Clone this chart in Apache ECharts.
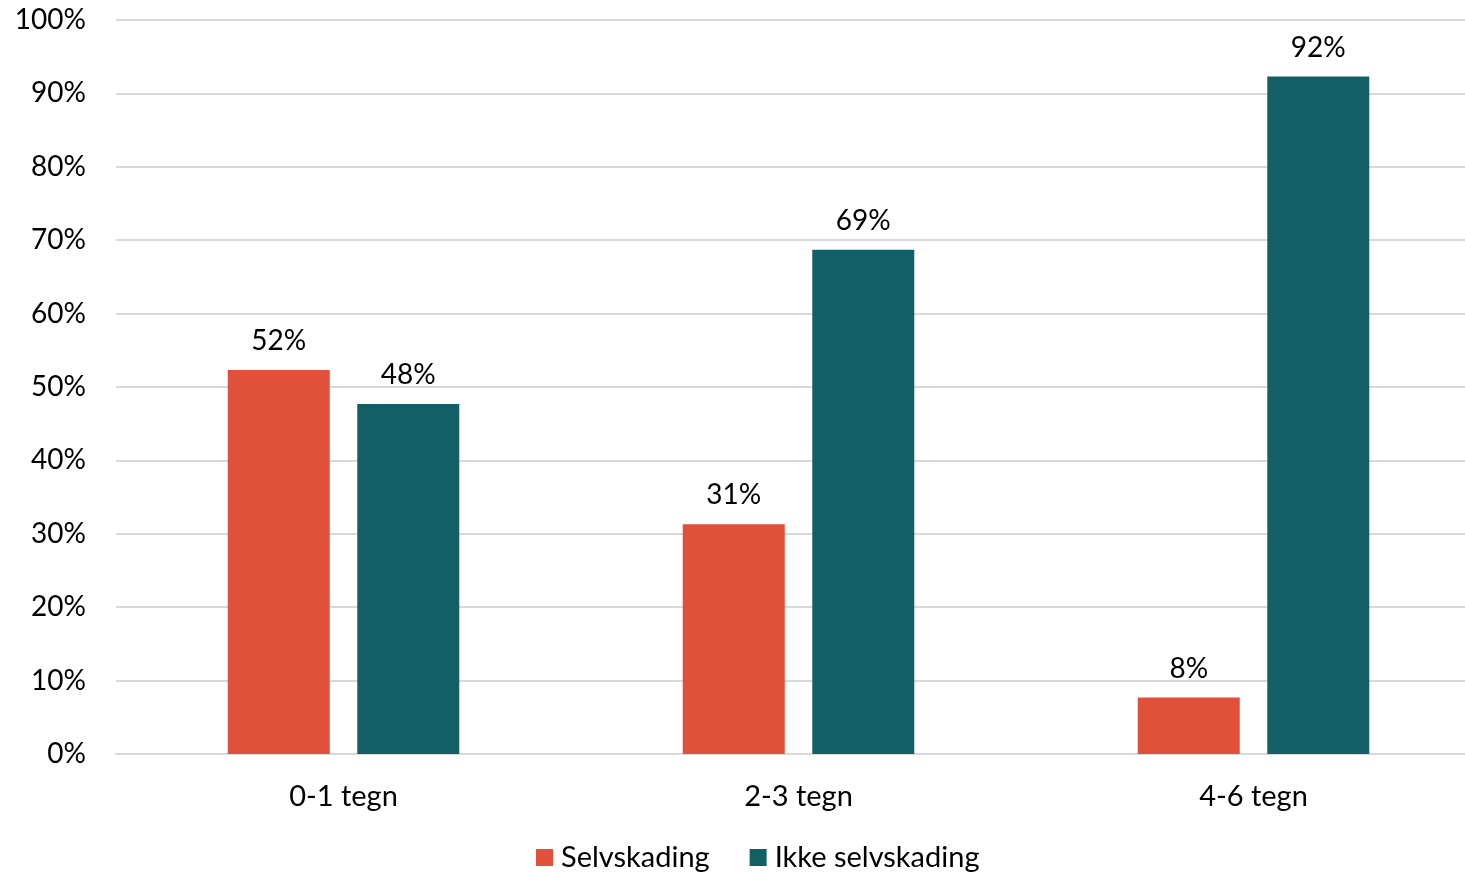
<!DOCTYPE html>
<html><head><meta charset="utf-8">
<script src="https://cdn.jsdelivr.net/npm/echarts@6/dist/echarts.min.js"></script>
<style>html,body{margin:0;padding:0;background:#fff}#c{width:1465px;height:874px}</style>
</head><body><div id="c"></div>
<script>
const categories = ['0-1 tegn', '2-3 tegn', '4-6 tegn'];
const seriesNames = ['Selvskading', 'Ikke selvskading'];
const selvskading = [52.3, 31.3, 7.7];
const ikkeSelvskading = [47.7, 68.7, 92.3];
const yTicks = [0, 10, 20, 30, 40, 50, 60, 70, 80, 90, 100];

const FONT = 'Lato';
const chart = echarts.init(document.getElementById('c'));
const labelOpt = {
  show: true, position: 'top', distance: 15,
  color: '#000', fontFamily: FONT, fontSize: 28,
  formatter: p => Math.round(p.value) + '%'
};
chart.setOption({
  animation: false,
  grid: { left: 116, width: 1365, top: 20, bottom: 120, containLabel: false, outerBoundsMode: 'none' },
  legend: {
    top: 838, left: 531, itemWidth: 17, itemHeight: 17, itemGap: 40,
    icon: 'rect',
    textStyle: { color: '#000', fontFamily: FONT, fontSize: 29, padding: [0, 0, 0, 3] },
    data: seriesNames
  },
  xAxis: {
    type: 'category', data: categories,
    axisLine: { show: true, lineStyle: { color: '#d9d9d9', width: 2 } },
    axisTick: { show: false },
    axisLabel: { color: '#000', fontFamily: FONT, fontSize: 29, margin: 28 }
  },
  yAxis: {
    type: 'value', min: yTicks[0], max: yTicks[yTicks.length - 1], interval: 10,
    axisLine: { show: false }, axisTick: { show: false },
    splitLine: { lineStyle: { color: '#d9d9d9', width: 2 } },
    axisLabel: { color: '#000', fontFamily: FONT, fontSize: 28, margin: 30, formatter: v => v + '%' }
  },
  series: [
    { name: seriesNames[0], type: 'bar', data: selvskading, barWidth: 102, barGap: '27%',
      itemStyle: { color: '#E0503A' }, label: labelOpt },
    { name: seriesNames[1], type: 'bar', data: ikkeSelvskading, barWidth: 102,
      itemStyle: { color: '#135F66' }, label: labelOpt }
  ]
});
</script></body></html>
